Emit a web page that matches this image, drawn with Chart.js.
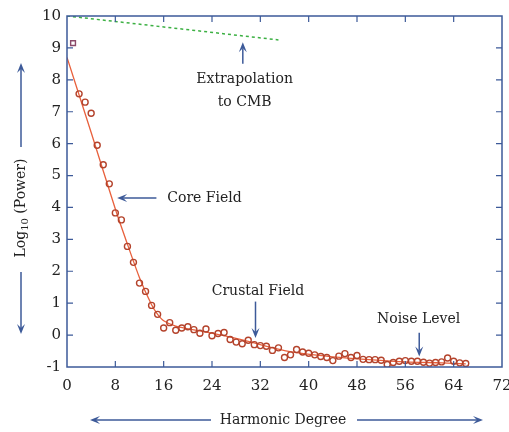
<!DOCTYPE html>
<html>
<head>
<meta charset="utf-8">
<script src="https://cdn.jsdelivr.net/npm/chart.js@4.4.0/dist/chart.umd.min.js"></script>
<style>
  html, body { margin: 0; padding: 0; background: #fff; }
  #wrap { width: 509px; height: 432px; }
</style>
</head>
<body>
<div id="wrap"><canvas id="powerChart" width="509" height="432"></canvas></div>
<script>
// Spectre de puissance : degrés harmoniques et log10 de la puissance
const degrees = [1, 2, 3, 4, 5, 6, 7, 8, 9, 10, 11, 12, 13, 14, 15, 16, 17, 18, 19, 20,
  21, 22, 23, 24, 25, 26, 27, 28, 29, 30, 31, 32, 33, 34, 35, 36, 37, 38, 39, 40,
  41, 42, 43, 44, 45, 46, 47, 48, 49, 50, 51, 52, 53, 54, 55, 56, 57, 58, 59, 60,
  61, 62, 63, 64, 65, 66];
const powerValues = [9.15, 7.56, 7.30, 6.95, 5.95, 5.34, 4.74, 3.83, 3.61, 2.78,
  2.28, 1.63, 1.37, 0.93, 0.65, 0.22, 0.39, 0.15, 0.22, 0.26,
  0.17, 0.06, 0.19, -0.02, 0.05, 0.08, -0.14, -0.22, -0.27, -0.16,
  -0.30, -0.33, -0.35, -0.48, -0.40, -0.70, -0.62, -0.45, -0.53, -0.57,
  -0.62, -0.67, -0.70, -0.80, -0.66, -0.58, -0.70, -0.64, -0.76, -0.77,
  -0.77, -0.79, -0.92, -0.86, -0.82, -0.80, -0.82, -0.82, -0.85, -0.88,
  -0.86, -0.84, -0.72, -0.82, -0.87, -0.89];

// Courbe ajustée
const fitDegrees = [0, 4, 8, 10, 12, 14, 15, 16, 18, 22, 26, 30, 34, 38, 44, 50, 56, 62, 66];
const fitValues = [8.7, 6.35, 3.95, 2.85, 1.8, 0.95, 0.65, 0.45, 0.28, 0.13, -0.02, -0.2, -0.4, -0.55, -0.68, -0.77, -0.84, -0.87, -0.9];

// Extrapolation jusqu'à la CMB
const cmbDegrees = [0, 35];
const cmbValues = [10, 9.25];

// Annotations (coordonnées en unités des axes)
const notes = [
  { text: 'Extrapolation', x: 29.4, y: 8.0, align: 'center' },
  { text: 'to CMB', x: 29.4, y: 7.3, align: 'center' },
  { text: 'Core Field', x: 16.6, y: 4.3, align: 'left' },
  { text: 'Crustal Field', x: 31.6, y: 1.36, align: 'center' },
  { text: 'Noise Level', x: 58.2, y: 0.5, align: 'center' }
];
const noteArrows = [
  { x1: 29.1, y1: 8.5, x2: 29.1, y2: 9.18 },
  { x1: 14.8, y1: 4.3, x2: 8.3, y2: 4.3 },
  { x1: 31.2, y1: 1.05, x2: 31.2, y2: -0.09 },
  { x1: 58.3, y1: 0.07, x2: 58.3, y2: -0.67 }
];

const BLUE = '#3d5a99';
const TEXT = '#222';
const FONT = "'DejaVu Serif', serif";

function drawArrow(ctx, x1, y1, x2, y2) {
  const ang = Math.atan2(y2 - y1, x2 - x1);
  const c = Math.cos(ang), s = Math.sin(ang);
  const head = 10, half = 4;
  ctx.beginPath();
  ctx.moveTo(x1, y1);
  ctx.lineTo(x2 - c * head * 0.6, y2 - s * head * 0.6);
  ctx.stroke();
  ctx.beginPath();
  ctx.moveTo(x2, y2);
  ctx.lineTo(x2 - head * c - half * s, y2 - head * s + half * c);
  ctx.lineTo(x2 - head * 0.6 * c, y2 - head * 0.6 * s);
  ctx.lineTo(x2 - head * c + half * s, y2 - head * s - half * c);
  ctx.closePath();
  ctx.fill();
}

const framePlugin = {
  id: 'frame',
  afterDraw(chart) {
    const ctx = chart.ctx;
    const area = chart.chartArea;
    const xs = chart.scales.x, ys = chart.scales.y;
    ctx.save();
    // Cadre et graduations intérieures
    ctx.strokeStyle = BLUE;
    ctx.lineWidth = 1.5;
    ctx.strokeRect(area.left, area.top, area.right - area.left, area.bottom - area.top);
    ctx.lineWidth = 1.2;
    ctx.beginPath();
    xs.ticks.forEach(t => {
      if (t.value <= xs.min || t.value >= xs.max) return;
      const px = xs.getPixelForValue(t.value);
      ctx.moveTo(px, area.bottom); ctx.lineTo(px, area.bottom - 6);
      ctx.moveTo(px, area.top); ctx.lineTo(px, area.top + 6);
    });
    ys.ticks.forEach(t => {
      if (t.value <= ys.min || t.value >= ys.max) return;
      const py = ys.getPixelForValue(t.value);
      ctx.moveTo(area.left, py); ctx.lineTo(area.left + 6, py);
      ctx.moveTo(area.right, py); ctx.lineTo(area.right - 6, py);
    });
    ctx.stroke();

    // Annotations
    ctx.fillStyle = TEXT;
    ctx.font = '14px ' + FONT;
    ctx.textBaseline = 'middle';
    notes.forEach(n => {
      ctx.textAlign = n.align;
      ctx.fillText(n.text, xs.getPixelForValue(n.x), ys.getPixelForValue(n.y));
    });
    ctx.strokeStyle = BLUE;
    ctx.fillStyle = BLUE;
    ctx.lineWidth = 1.5;
    noteArrows.forEach(a => {
      drawArrow(ctx, xs.getPixelForValue(a.x1), ys.getPixelForValue(a.y1),
        xs.getPixelForValue(a.x2), ys.getPixelForValue(a.y2));
    });

    // Titre de l'axe X avec flèches
    ctx.fillStyle = TEXT;
    ctx.textAlign = 'center';
    ctx.fillText('Harmonic Degree', 283, 420);
    ctx.fillStyle = BLUE;
    drawArrow(ctx, 211, 420, 90, 420);
    drawArrow(ctx, 357, 420, 483, 420);

    // Titre de l'axe Y (Log10 avec indice)
    ctx.save();
    ctx.translate(21, 208);
    ctx.rotate(-Math.PI / 2);
    const big = '14px ' + FONT, small = '10px ' + FONT;
    ctx.font = big;
    const w1 = ctx.measureText('Log').width;
    const w3 = ctx.measureText(' (Power)').width;
    ctx.font = small;
    const w2 = ctx.measureText('10').width;
    let x0 = -(w1 + w2 + w3) / 2;
    ctx.fillStyle = TEXT;
    ctx.textAlign = 'left';
    ctx.font = big;
    ctx.fillText('Log', x0, 0);
    ctx.font = small;
    ctx.fillText('10', x0 + w1, 4);
    ctx.font = big;
    ctx.fillText(' (Power)', x0 + w1 + w2, 0);
    ctx.restore();
    ctx.fillStyle = BLUE;
    drawArrow(ctx, 21, 147, 21, 63);
    drawArrow(ctx, 21, 272, 21, 334);
    ctx.restore();
  }
};

Chart.defaults.font.family = FONT;
Chart.defaults.font.size = 14;
Chart.defaults.color = TEXT;

new Chart(document.getElementById('powerChart'), {
  type: 'line',
  data: {
    datasets: [
      {
        label: 'Power',
        data: degrees.map((d, i) => ({ x: d, y: powerValues[i] })),
        showLine: false,
        pointStyle: ctx => ctx.dataIndex === 0 ? 'rect' : 'circle',
        pointRadius: ctx => ctx.dataIndex === 0 ? 3.4 : 3,
        borderColor: ctx => ctx.dataIndex === 0 ? '#8a4a6a' : '#b4432c',
        backgroundColor: 'rgba(255,255,255,0)',
        pointBorderWidth: 1.4
      },
      {
        label: 'Fit',
        data: fitDegrees.map((d, i) => ({ x: d, y: fitValues[i] })),
        borderColor: '#e8603c',
        borderWidth: 1.3,
        pointRadius: 0,
        tension: 0.3
      },
      {
        label: 'CMB',
        data: cmbDegrees.map((d, i) => ({ x: d, y: cmbValues[i] })),
        borderColor: '#3cb043',
        borderWidth: 1.5,
        borderDash: [3, 3],
        pointRadius: 0
      }
    ]
  },
  options: {
    responsive: false,
    animation: false,
    devicePixelRatio: 1,
    layout: { padding: { top: 16, right: 7, left: 0, bottom: 0 } },
    plugins: {
      legend: { display: false },
      tooltip: { enabled: false }
    },
    scales: {
      x: {
        type: 'linear',
        min: 0,
        max: 72,
        grid: { display: false, drawTicks: false },
        border: { display: false },
        ticks: { stepSize: 8, padding: 10, maxRotation: 0, font: { size: 15 } },
        afterFit: s => { s.height = 65; s.paddingLeft = 0; s.paddingRight = 0; }
      },
      y: {
        min: -1,
        max: 10,
        grid: { display: false, drawTicks: false },
        border: { display: false },
        ticks: { stepSize: 1, padding: 6, font: { size: 15 } },
        afterFit: s => { s.width = 67; }
      }
    }
  },
  plugins: [framePlugin]
});
</script>
</body>
</html>
